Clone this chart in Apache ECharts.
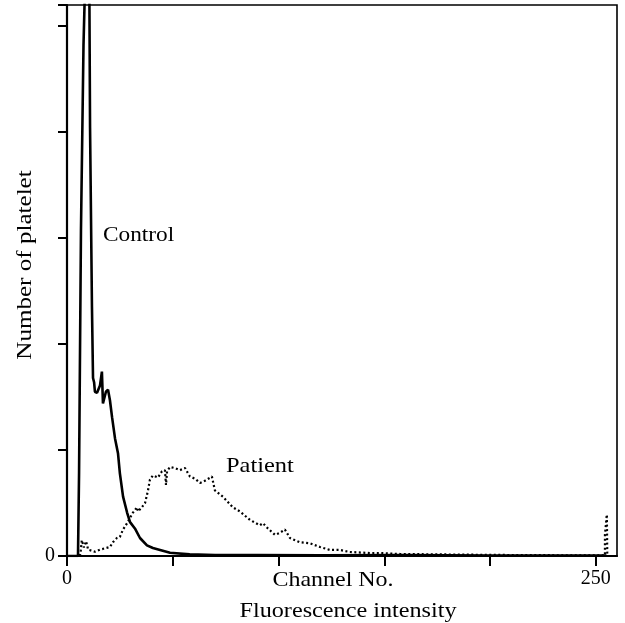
<!DOCTYPE html>
<html>
<head>
<meta charset="utf-8">
<script src="https://cdn.jsdelivr.net/npm/echarts@6/dist/echarts.min.js"></script>
<style>html,body{margin:0;padding:0;background:#fff;}#c{width:625px;height:623px;}</style>
</head>
<body>
<div id="c"></div>
<script>
// Channel number vs. number of platelets (in y-tick units)
const controlData = [
  [0, 0], [5.2, 0], [5.7, 0.78], [6.6, 3.07], [7.8, 4.82], [9.3, 6.0], [10.4, 6.0],
  [10.9, 4.04], [11.8, 2.35], [12.3, 1.68], [12.8, 1.64], [13.2, 1.55], [14.2, 1.54],
  [15.6, 1.61], [16.5, 1.74], [17.0, 1.44], [18.4, 1.55], [19.4, 1.57], [20.3, 1.47],
  [21.3, 1.31], [22.7, 1.11], [24.1, 0.97], [25.0, 0.78], [26.5, 0.56], [28.4, 0.41],
  [29.8, 0.32], [32.1, 0.26], [34.5, 0.17], [37.8, 0.10], [40.6, 0.075], [44.0, 0.057],
  [48.7, 0.03], [58, 0.015], [70, 0.008], [90, 0.01], [120, 0.006], [160, 0.008],
  [200, 0.005], [255, 0.005]
];
const patientData = [
  [6.1, 0], [6.5, 0.05], [7.0, 0.15], [8.0, 0.08], [9.0, 0.14], [10.0, 0.06],
  [13.2, 0.04], [15.6, 0.06], [20.3, 0.085], [21.7, 0.13], [23.6, 0.17], [25.0, 0.18],
  [26.5, 0.25], [28.4, 0.31], [29.8, 0.36], [31.2, 0.41], [33.1, 0.46], [33.6, 0.42],
  [35.4, 0.46], [36.9, 0.5], [38.3, 0.62], [39.2, 0.72], [40.6, 0.76], [43.0, 0.74],
  [44.9, 0.8], [46.3, 0.81], [46.8, 0.67], [47.3, 0.8], [48.7, 0.84], [51.0, 0.83],
  [53.4, 0.81], [55.8, 0.83], [58.1, 0.75], [60.5, 0.73], [62.9, 0.69], [65.2, 0.71],
  [68.5, 0.75], [69.9, 0.62], [73.7, 0.56], [78.4, 0.46], [81.8, 0.42], [86.5, 0.34],
  [91.2, 0.29], [92.6, 0.31], [95.0, 0.26], [98.3, 0.2], [100.7, 0.22], [103.0, 0.25],
  [105.4, 0.17], [110.1, 0.13], [114.8, 0.12], [119.6, 0.085], [124.3, 0.057],
  [129.0, 0.057], [133.7, 0.038], [143.2, 0.028], [147.9, 0.028], [157.4, 0.019],
  [176.3, 0.015], [204.6, 0.01], [252, 0.005], [254.3, 0.005], [254.3, 0.2],
  [255.2, 0.2], [255.2, 0.39], [255.4, 0]
];
const xTickLabels = {0: '0', 250: '250'};
const yTickLabels = {0: '0'};
const seriesNames = ['Control', 'Patient'];

const font = 'Liberation Serif';
const tf = '22px "Liberation Serif"';
const chart = echarts.init(document.getElementById('c'));
chart.setOption({
  animation: false,
  backgroundColor: '#fff',
  grid: {left: 67, right: 8, top: 5, bottom: 67, show: true, borderColor: '#000', borderWidth: 1.6},
  xAxis: {
    type: 'value', min: 0, max: 260, interval: 50,
    axisLine: {show: true, lineStyle: {color: '#000', width: 2.2}},
    axisTick: {show: true, length: 10, lineStyle: {color: '#000', width: 2}},
    splitLine: {show: false},
    axisLabel: {
      color: '#000', fontFamily: font, fontSize: 20, margin: 13,
      formatter: v => xTickLabels[v] || '', showMaxLabel: false
    }
  },
  yAxis: {
    type: 'value', min: 0, max: 5.2, interval: 1,
    axisLine: {show: true, lineStyle: {color: '#000', width: 2.2}},
    axisTick: {show: true, length: 9, lineStyle: {color: '#000', width: 2}},
    splitLine: {show: false},
    axisLabel: {
      color: '#000', fontFamily: font, fontSize: 20, margin: 12,
      formatter: v => yTickLabels[v] || ''
    }
  },
  series: [
    {
      name: seriesNames[0], type: 'line', data: controlData, showSymbol: false, clip: true,
      lineStyle: {color: '#000', width: 2.6}
    },
    {
      name: seriesNames[1], type: 'line', data: patientData, showSymbol: false, clip: true,
      lineStyle: {color: '#000', width: 2.2, type: [2, 2.5]}
    }
  ],
  graphic: [
    {type: 'text', x: 103, y: 235, scaleX: 1.06, style: {text: seriesNames[0], font: tf, fill: '#000', verticalAlign: 'middle'}},
    {type: 'text', x: 226, y: 466, scaleX: 1.11, style: {text: seriesNames[1], font: tf, fill: '#000', verticalAlign: 'middle'}},
    {type: 'text', x: 333, y: 580, scaleX: 1.09, style: {text: 'Channel No.', font: tf, fill: '#000', align: 'center', verticalAlign: 'middle'}},
    {type: 'text', x: 348, y: 611, scaleX: 1.1, style: {text: 'Fluorescence intensity', font: tf, fill: '#000', align: 'center', verticalAlign: 'middle'}},
    {type: 'text', x: 25, y: 265, rotation: Math.PI / 2, scaleX: 1.14, style: {text: 'Number of platelet', font: tf, fill: '#000', align: 'center', verticalAlign: 'middle'}}
  ]
});
</script>
</body>
</html>
